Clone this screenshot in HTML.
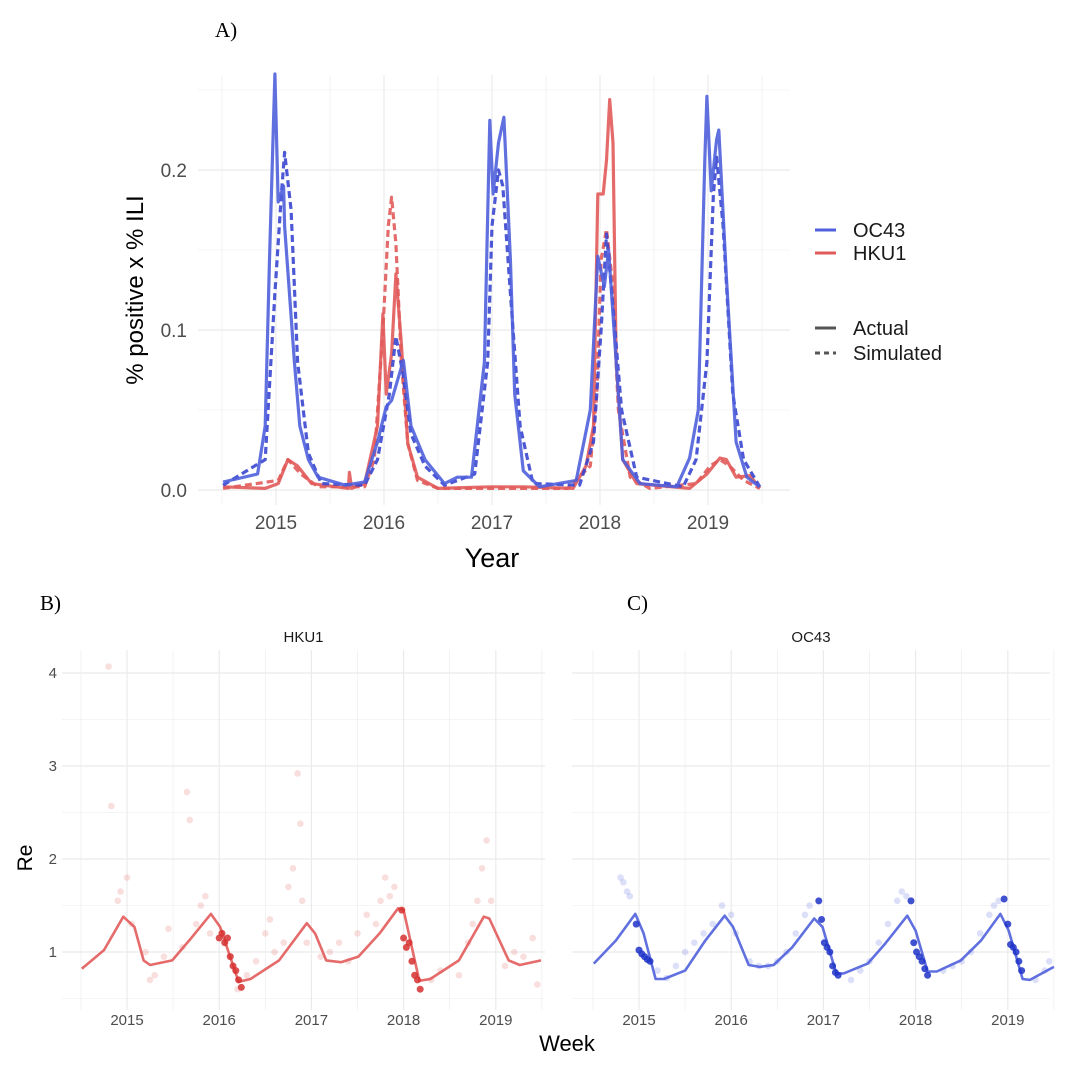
<!DOCTYPE html>
<html><head><meta charset="utf-8">
<style>
body{margin:0;background:#fff;}
svg{display:block;font-family:"Liberation Sans",sans-serif;}
</style></head>
<body>
<svg id="c" width="1080" height="1067" viewBox="0 0 1080 1067"></svg>
<script>
// ---------- Panel A data ----------
const oc43ActT=[2014.51,2014.83,2014.9,2014.94,2014.99,2015.02,2015.07,2015.08,2015.17,2015.22,2015.3,2015.39,2015.64,2015.82,2015.94,2016.02,2016.07,2016.18,2016.25,2016.38,2016.56,2016.68,2016.81,2016.93,2016.98,2017.01,2017.06,2017.11,2017.17,2017.21,2017.29,2017.44,2017.78,2017.91,2017.98,2018.04,2018.08,2018.15,2018.21,2018.37,2018.71,2018.83,2018.91,2018.97,2018.99,2019.03,2019.08,2019.1,2019.17,2019.26,2019.36,2019.48];
const oc43ActV=[0.005,0.01,0.04,0.144,0.26,0.18,0.19,0.165,0.08,0.04,0.019,0.008,0.003,0.005,0.03,0.052,0.056,0.081,0.04,0.019,0.004,0.008,0.008,0.08,0.231,0.185,0.217,0.233,0.144,0.06,0.012,0.002,0.006,0.05,0.146,0.127,0.15,0.08,0.019,0.004,0.002,0.02,0.05,0.206,0.246,0.187,0.219,0.225,0.133,0.03,0.008,0.002];
const oc43SimT=[2014.51,2014.9,2014.99,2015.05,2015.08,2015.14,2015.2,2015.3,2015.42,2015.82,2015.94,2016.05,2016.11,2016.18,2016.25,2016.38,2016.56,2016.84,2016.96,2017.0,2017.06,2017.1,2017.17,2017.26,2017.38,2017.81,2017.94,2018.01,2018.06,2018.11,2018.2,2018.34,2018.77,2018.89,2018.99,2019.05,2019.08,2019.14,2019.23,2019.33,2019.48];
const oc43SimV=[0.003,0.019,0.123,0.185,0.211,0.175,0.08,0.023,0.004,0.003,0.019,0.06,0.096,0.071,0.035,0.015,0.003,0.01,0.08,0.165,0.2,0.19,0.123,0.04,0.004,0.003,0.03,0.1,0.16,0.123,0.05,0.008,0.002,0.019,0.08,0.185,0.208,0.165,0.06,0.019,0.002];
const hku1ActT=[2014.51,2014.9,2015.02,2015.11,2015.2,2015.33,2015.67,2015.68,2015.7,2015.82,2015.94,2015.99,2016.02,2016.07,2016.11,2016.16,2016.22,2016.31,2016.5,2016.99,2017.29,2017.75,2017.87,2017.94,2017.98,2018.03,2018.06,2018.09,2018.12,2018.15,2018.21,2018.34,2018.83,2018.99,2019.11,2019.17,2019.26,2019.39,2019.48];
const hku1ActV=[0.002,0.001,0.004,0.019,0.015,0.004,0.001,0.011,0.001,0.004,0.04,0.11,0.06,0.085,0.135,0.092,0.029,0.008,0.001,0.002,0.002,0.001,0.015,0.04,0.185,0.185,0.206,0.244,0.217,0.08,0.019,0.004,0.001,0.01,0.02,0.019,0.008,0.009,0.001];
const hku1SimT=[2014.51,2015.02,2015.11,2015.23,2015.39,2015.82,2015.91,2015.99,2016.04,2016.07,2016.11,2016.16,2016.22,2016.31,2016.5,2017.7,2017.91,2017.97,2018.01,2018.06,2018.11,2018.17,2018.28,2018.46,2018.89,2019.02,2019.11,2019.2,2019.33,2019.48];
const hku1SimV=[0.001,0.006,0.019,0.01,0.002,0.002,0.019,0.1,0.165,0.183,0.154,0.081,0.029,0.006,0.001,0.001,0.015,0.06,0.144,0.163,0.133,0.05,0.008,0.001,0.004,0.015,0.019,0.015,0.006,0.001];
const aYTicks=[0,0.1,0.2];
const aYLabels=["0.0","0.1","0.2"];
const yearTicks=[2015,2016,2017,2018,2019];

// ---------- Panel B/C data ----------
const hkuReT=[2014.51,2014.75,2014.96,2015.08,2015.18,2015.25,2015.49,2015.68,2015.91,2016.01,2016.21,2016.34,2016.65,2016.95,2017.04,2017.16,2017.32,2017.51,2017.74,2017.94,2018.0,2018.17,2018.29,2018.6,2018.87,2018.93,2019.14,2019.26,2019.49];
const hkuReV=[0.82,1.02,1.38,1.27,0.91,0.86,0.91,1.13,1.41,1.27,0.68,0.71,0.91,1.31,1.2,0.91,0.89,0.95,1.2,1.47,1.45,0.69,0.71,0.91,1.38,1.36,0.91,0.86,0.91];
const ocReT=[2014.51,2014.75,2014.96,2015.05,2015.18,2015.27,2015.5,2015.72,2015.93,2016.02,2016.19,2016.31,2016.46,2016.66,2016.9,2016.99,2017.14,2017.22,2017.48,2017.67,2017.91,2018.0,2018.13,2018.23,2018.49,2018.71,2018.92,2019.01,2019.16,2019.24,2019.5];
const ocReV=[0.875,1.125,1.41,1.2,0.71,0.71,0.8,1.125,1.39,1.27,0.86,0.84,0.86,1.05,1.36,1.27,0.77,0.77,0.875,1.09,1.39,1.23,0.79,0.79,0.91,1.125,1.41,1.23,0.71,0.7,0.84];
const hkuPtT=[2014.8,2014.83,2014.9,2014.93,2015.0,2015.05,2015.2,2015.3,2015.4,2015.6,2015.65,2015.68,2015.75,2015.8,2015.85,2015.9,2016.3,2016.4,2016.5,2016.55,2016.6,2016.7,2016.75,2016.8,2016.85,2016.88,2016.9,2016.95,2017.1,2017.2,2017.3,2017.4,2017.5,2017.6,2017.7,2017.75,2017.8,2017.85,2017.9,2018.3,2018.4,2018.6,2018.7,2018.75,2018.8,2018.85,2018.9,2018.95,2019.1,2019.2,2019.3,2019.4,2019.45,2015.25,2015.45,2016.2];
const hkuPtV=[4.07,2.57,1.55,1.65,1.8,1.3,1.0,0.75,0.95,1.05,2.72,2.42,1.3,1.5,1.6,1.2,0.75,0.9,1.2,1.35,1.0,1.1,1.7,1.9,2.92,2.38,1.55,1.1,0.95,1.0,1.1,0.9,1.2,1.4,1.3,1.55,1.8,1.6,1.7,0.7,0.8,0.75,1.1,1.3,1.55,1.9,2.2,1.55,0.85,1.0,0.95,1.15,0.65,0.7,1.25,0.6];
const hkuDkT=[2016.0,2016.03,2016.06,2016.09,2016.12,2016.15,2016.18,2016.21,2016.24,2017.98,2018.0,2018.03,2018.06,2018.09,2018.12,2018.15,2018.18];
const hkuDkV=[1.15,1.2,1.1,1.15,0.95,0.85,0.8,0.7,0.62,1.45,1.15,1.05,1.1,0.9,0.75,0.7,0.6];
const ocPtT=[2014.8,2014.83,2014.87,2014.9,2015.2,2015.3,2015.4,2015.5,2015.6,2015.7,2015.8,2015.9,2016.0,2016.05,2016.2,2016.3,2016.4,2016.5,2016.6,2016.7,2016.8,2016.85,2017.3,2017.4,2017.5,2017.6,2017.7,2017.8,2017.85,2017.9,2018.3,2018.4,2018.5,2018.6,2018.7,2018.8,2018.85,2018.9,2019.3,2019.4,2019.45];
const ocPtV=[1.8,1.75,1.65,1.6,0.8,0.72,0.85,1.0,1.1,1.2,1.3,1.5,1.4,1.2,0.9,0.85,0.85,0.9,1.0,1.2,1.4,1.5,0.7,0.8,0.9,1.1,1.3,1.55,1.65,1.6,0.8,0.85,0.9,1.0,1.2,1.4,1.5,1.55,0.7,0.8,0.9];
const ocDkT=[2014.97,2015.0,2015.03,2015.06,2015.09,2015.12,2016.95,2016.98,2017.01,2017.04,2017.07,2017.1,2017.13,2017.16,2017.95,2017.98,2018.01,2018.04,2018.07,2018.1,2018.13,2018.96,2019.0,2019.03,2019.06,2019.09,2019.12,2019.15];
const ocDkV=[1.3,1.02,0.98,0.95,0.92,0.9,1.55,1.35,1.1,1.05,1.0,0.85,0.78,0.75,1.55,1.1,1.0,0.95,0.9,0.82,0.75,1.57,1.3,1.08,1.05,1.0,0.9,0.8];
const reTicks=[1,2,3,4];

const BLUE="#5060dc", RED="#e25b5b", DBLUE="#1f33c8", DRED="#d63030";
const svg=document.getElementById('c');
const NS="http://www.w3.org/2000/svg";
function mk(tag,attrs,parent){const e=document.createElementNS(NS,tag);for(const k in attrs)e.setAttribute(k,attrs[k]);(parent||svg).appendChild(e);return e;}
function txt(s,x,y,size,fill,anchor,parent,extra){const t=mk('text',Object.assign({x:x,y:y,'font-size':size,fill:fill,'text-anchor':anchor||'middle'},extra||{}),parent);t.textContent=s;return t;}

// ---- Panel A ----
const ax=t=>276+(t-2015)*108, ay=v=>490-v*1600;
const gA=mk('g',{});


for(let k=0;k<=5;k++){const v=k*0.05;mk('line',{x1:198,x2:790,y1:ay(v),y2:ay(v),stroke:'#ebebeb','stroke-width':k%2===0?1.2:0.6},gA);}
for(let y=2014.5;y<=2019.5;y+=0.5){mk('line',{x1:ax(y),x2:ax(y),y1:75,y2:505,stroke:'#ebebeb','stroke-width':Number.isInteger(y)?1.2:0.6},gA);}
aYTicks.forEach((v,i)=>{const t=txt(aYLabels[i],187,ay(v)+7,19,'#4d4d4d','end',gA);});
yearTicks.forEach(y=>{const t=txt(String(y),ax(y),529,19,'#4d4d4d','middle',gA);});
function series(T,V,fx,fy,color,dash,name,parent,w){const p=mk('polyline',{points:T.map((t,i)=>fx(t).toFixed(1)+','+fy(V[i]).toFixed(1)).join(' '),fill:'none',stroke:color,'stroke-width':w||3.2,'stroke-linejoin':'round','stroke-opacity':0.9},parent);if(dash)p.setAttribute('stroke-dasharray',dash);return p;}
series(hku1SimT,hku1SimV,ax,ay,RED,'7 4','hku1-simulated-line',gA);
series(hku1ActT,hku1ActV,ax,ay,RED,null,'hku1-actual-line',gA);
series(oc43SimT,oc43SimV,ax,ay,'#3a46d0','7 4','oc43-simulated-line',gA);
series(oc43ActT,oc43ActV,ax,ay,BLUE,null,'oc43-actual-line',gA);
let t;
t=txt('A)',215,37,21,'#000','start',svg,{'font-family':'Liberation Serif'});
t=txt('% positive x % ILI',0,0,24,'#000','middle',svg,{transform:'translate(143,290) rotate(-90)'});
t=txt('Year',492,567,27,'#000','middle');
const lg=mk('g',{});


[[230,'OC43',BLUE,null],[253,'HKU1',RED,null],[328,'Actual','#555',null],[353,'Simulated','#555','5 4']].forEach(r=>{const l=mk('line',{x1:815,x2:836,y1:r[0],y2:r[0],stroke:r[2],'stroke-width':3},lg);if(r[3])l.setAttribute('stroke-dasharray',r[3]);const tt=txt(r[1],853,r[0]+7,20,'#1a1a1a','start',lg);});

// ---- Panels B, C ----
const ry=v=>952-(v-1)*93;
function panel(x0,x1,x2015,name,strip,lineT,lineV,pT,pV,dT,dV,col,dcol,lab,labx){
 const g=mk('g',{});
 
 
 const fx=t=>x2015+(t-2015)*92.2;
 for(let k=1;k<=8;k++){const v=k*0.5;mk('line',{x1:x0,x2:x1,y1:ry(v),y2:ry(v),stroke:'#ebebeb','stroke-width':k%2===0?1.2:0.6},g);}
 for(let y=2014.5;y<=2019.5;y+=0.5){mk('line',{x1:fx(y),x2:fx(y),y1:650,y2:1010,stroke:'#ebebeb','stroke-width':Number.isInteger(y)?1.2:0.6},g);}
 yearTicks.forEach(y=>{const tt=txt(String(y),fx(y),1025,15,'#4d4d4d','middle',g);});
 pT.forEach((tt,i)=>{const c=mk('circle',{cx:fx(tt),cy:ry(pV[i]),r:3.3,fill:col,'fill-opacity':0.2},g);});
 series(lineT,lineV,fx,ry,col,null,'re-smooth-line',g,2.6);
 dT.forEach((tt,i)=>{const c=mk('circle',{cx:fx(tt),cy:ry(dV[i]),r:3.5,fill:dcol,'fill-opacity':0.85},g);});
 const st=txt(strip,(x0+x1)/2,642,15,'#1a1a1a','middle',g);
 const lb=txt(lab,labx,610,21,'#000','start',svg,{'font-family':'Liberation Serif'});
}
panel(62,545,127,'panel-b','HKU1',hkuReT,hkuReV,hkuPtT,hkuPtV,hkuDkT,hkuDkV,RED,DRED,'B)',40);
panel(572,1050,639,'panel-c','OC43',ocReT,ocReV,ocPtT,ocPtV,ocDkT,ocDkV,BLUE,DBLUE,'C)',627);
reTicks.forEach(v=>{const tt=txt(String(v),57,ry(v)+5,15,'#4d4d4d','end');});
t=txt('Re',0,0,21,'#000','middle',svg,{transform:'translate(32,858) rotate(-90)'});
t=txt('Week',567,1051,22,'#000','middle');
</script>
</body></html>
